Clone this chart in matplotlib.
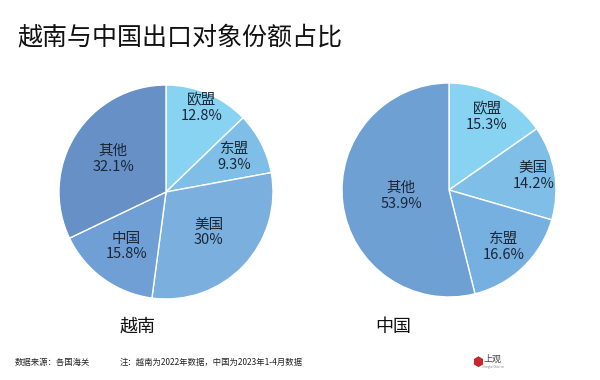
import numpy as np
import matplotlib
matplotlib.use("Agg")
import matplotlib.pyplot as plt

plt.rcParams['font.family'] = ['Noto Sans CJK SC', 'DejaVu Sans']

# data
vn_labels = ["欧盟", "东盟", "美国", "中国", "其他"]
vn_values = [12.8, 9.3, 30, 15.8, 32.1]
vn_colors = ["#88d3f1", "#7fbfe7", "#7bb0de", "#6f9fd4", "#6790c7"]
vn_label_r = [0.85, 0.72, 0.55, 0.63, 0.58]

cn_labels = ["欧盟", "美国", "东盟", "其他"]
cn_values = [15.3, 14.2, 16.6, 53.9]
cn_colors = ["#88d3f1", "#7fbfe7", "#76b0e0", "#6fa0d4"]
cn_label_r = [0.77, 0.80, 0.74, 0.45]

TEXT_COLOR = "#1b2636"


def draw_pie(ax, labels, values, colors, label_r):
    wedges, _ = ax.pie(values, colors=colors, startangle=90, counterclock=False,
                       radius=1, wedgeprops=dict(edgecolor="white", linewidth=1.0))
    for w, lab, val, r in zip(wedges, labels, values, label_r):
        ang = np.deg2rad((w.theta1 + w.theta2) / 2)
        x, y = r * np.cos(ang), r * np.sin(ang)
        ax.text(x, y, f"{lab}\n{val:g}%", ha="center", va="center",
                fontsize=10.5, color=TEXT_COLOR, linespacing=1.15)
    ax.set_xlim(-1, 1)
    ax.set_ylim(-1, 1)
    ax.set_aspect("equal")
    ax.axis("off")


fig = plt.figure(figsize=(6, 3.8), dpi=100)

R = 107
W, H = 2 * R / 600, 2 * R / 380
ax1 = fig.add_axes([166 / 600 - W / 2, 1 - 192 / 380 - H / 2, W, H])
draw_pie(ax1, vn_labels, vn_values, vn_colors, vn_label_r)
ax2 = fig.add_axes([449 / 600 - W / 2, 1 - 190 / 380 - H / 2, W, H])
draw_pie(ax2, cn_labels, cn_values, cn_colors, cn_label_r)

fig.text(17 / 600, 1 - 37 / 380, "越南与中国出口对象份额占比", fontsize=18,
         fontweight="medium", va="center", ha="left", color="#111111")
fig.text(138 / 600, 1 - 327 / 380, "越南", fontsize=13, ha="center", va="center",
         fontweight="medium", color="#111111")
fig.text(393 / 600, 1 - 327 / 380, "中国", fontsize=13, ha="center", va="center",
         fontweight="medium", color="#111111")

fig.text(15 / 600, 1 - 362 / 380, "数据来源：各国海关", fontsize=6, va="center",
         fontweight="medium", color="#222222")
fig.text(120 / 600, 1 - 362 / 380, "注：越南为2022年数据，中国为2023年1-4月数据",
         fontsize=6, va="center", fontweight="medium", color="#222222")

# logo
fig.text(478 / 600, 1 - 362 / 380, "⬢", fontsize=9, ha="center", va="center",
         color="#c8262c", family=['DejaVu Sans'])
fig.text(493 / 600, 1 - 359 / 380, "上观", fontsize=6.5, ha="center", va="center",
         color="#444444")
fig.text(493 / 600, 1 - 367 / 380, "Shanghai Observer", fontsize=1.8, ha="center",
         va="center", color="#888888")

fig.savefig("out.png", dpi=100, facecolor="white")
